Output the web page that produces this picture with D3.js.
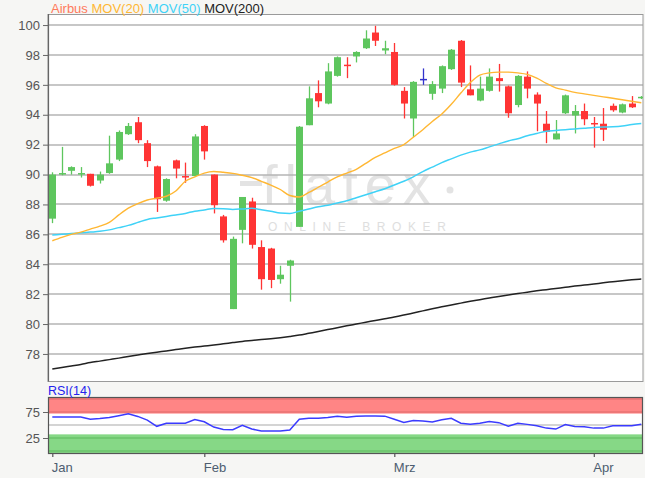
<!DOCTYPE html>
<html><head><meta charset="utf-8">
<script src="https://cdn.jsdelivr.net/npm/d3@7/dist/d3.min.js"></script>
<style>
html,body{margin:0;padding:0;background:#f6f6f4;}
svg{display:block;font-family:"Liberation Sans",Arial,sans-serif;}
</style></head>
<body>
<svg id="chart" width="645" height="478"></svg>
<script>
// ---- data ----
const monthLabels = ["Jan","Feb","Mrz","Apr"];
const monthStartIndex = [0,16,36,57];
const priceTicks = [78,80,82,84,86,88,90,92,94,96,98,100];
const rsiTicks = [75,25];
const legendItems = ["Airbus","MOV(20)","MOV(50)","MOV(200)"];

const openV  = [87.05,90.0,90.25,90.0,90.05,89.6,90.1,91.0,92.7,93.5,92.1,90.55,88.25,90.95,89.9,89.9,93.25,90.0,87.2,81.0,86.3,88.2,85.15,85.05,83.0,83.9,86.5,93.3,95.45,94.75,96.6,97.35,97.9,98.45,99.5,98.3,98.2,95.6,93.75,96.35,95.4,95.75,97.05,98.95,95.7,94.95,95.6,96.45,95.9,94.65,96.55,95.35,93.4,92.35,94.1,93.95,94.25,93.45,93.4,94.6,94.15,94.75,95.1];
const highV  = [90.15,91.85,90.55,90.5,90.05,90.2,92.6,92.95,93.45,93.85,92.3,90.6,89.75,91.0,90.8,92.7,93.3,90.0,87.3,85.85,88.5,88.45,85.6,85.1,83.9,84.3,93.25,95.9,96.3,97.45,97.9,97.85,98.25,99.65,99.95,98.95,98.8,95.85,96.25,97.1,96.25,97.3,98.4,99.0,97.3,96.55,97.1,97.4,95.95,96.65,96.9,95.5,94.25,93.65,95.35,94.65,94.75,93.85,94.45,94.75,94.75,95.25,95.25];
const lowV   = [86.75,89.95,90.0,89.8,89.2,89.4,90.05,90.9,92.65,92.1,90.5,87.5,88.18,89.75,89.45,89.85,91.0,87.4,85.45,81.0,85.4,85.05,82.3,82.4,82.7,81.5,86.5,93.3,94.5,94.7,96.55,96.45,97.5,98.4,98.6,98.05,95.95,93.75,92.5,96.0,95.0,95.45,97.0,95.85,95.3,94.9,95.55,95.55,93.8,94.5,95.1,92.9,92.1,92.35,94.05,92.75,93.3,91.8,92.25,94.2,94.1,94.45,95.05];
const closeV = [90.0,90.1,90.5,90.1,89.25,90.0,90.75,92.85,93.25,92.3,90.9,88.35,89.7,90.4,89.8,92.55,91.55,87.95,85.6,85.7,88.5,85.3,83.0,82.95,83.3,84.25,93.2,95.1,94.9,96.9,97.85,97.3,98.2,99.1,98.95,98.45,96.0,94.75,96.2,96.35,96.05,97.25,98.35,96.15,95.3,95.75,96.55,96.25,94.1,96.6,95.75,94.75,92.85,92.75,95.3,94.25,93.7,93.35,93.0,94.3,94.7,94.5,95.2];

const mov20  = [85.57,85.8,86.0,86.15,86.35,86.55,86.8,87.3,87.75,88.05,88.3,88.42,88.55,88.9,89.55,89.85,90.1,90.2,90.15,90.08,89.95,89.8,89.55,89.3,89.0,88.6,88.5,88.8,89.15,89.5,89.85,90.1,90.35,90.75,91.15,91.45,91.75,92.0,92.5,93.0,93.55,94.05,94.7,95.45,96.15,96.65,96.8,96.85,96.85,96.8,96.7,96.45,96.1,95.8,95.65,95.5,95.4,95.3,95.2,95.1,95.0,94.9,94.8];
const mov50  = [85.95,86.0,86.05,86.1,86.15,86.2,86.3,86.45,86.6,86.8,87.0,87.1,87.2,87.3,87.4,87.55,87.63,87.73,87.72,87.67,87.7,87.74,87.65,87.55,87.42,87.4,87.55,87.7,87.85,87.95,88.1,88.25,88.45,88.65,88.85,89.05,89.3,89.55,89.85,90.2,90.5,90.8,91.05,91.3,91.5,91.65,91.85,92.05,92.25,92.4,92.6,92.75,92.9,92.95,93.0,93.05,93.1,93.15,93.18,93.2,93.25,93.35,93.42];
const mov200 = [76.99,77.1,77.2,77.3,77.42,77.52,77.62,77.72,77.83,77.93,78.03,78.12,78.2,78.29,78.38,78.46,78.53,78.6,78.68,78.76,78.84,78.9,78.96,79.02,79.09,79.17,79.26,79.38,79.5,79.63,79.75,79.88,80.0,80.12,80.24,80.36,80.47,80.6,80.74,80.88,81.02,81.15,81.28,81.4,81.52,81.63,81.74,81.85,81.95,82.04,82.13,82.22,82.3,82.38,82.46,82.54,82.61,82.68,82.76,82.83,82.9,82.96,83.01];
const rsi14  = [65.5,65.5,65.5,65.5,61.3,62.5,64.3,68,71.8,66.5,59.5,47.5,53.5,53.5,53.5,60.5,56.3,46,41.5,41,49.5,42.3,38.5,38.3,38.3,40.5,61,63,63,64.5,67,65,67,67.4,67.4,67,61,55,58.5,57.5,56,60,63,53.5,51.6,53.3,56.5,54.5,47.5,53.5,51.2,48.7,44,42.2,51,47.3,46.5,44,44,48.4,48.4,48.4,51.6];

// ---- layout ----
const svg = d3.select("#chart");
const L = 48, R = 643, T = 14, B = 381;
const rT = 397, rB = 453;
const font = '"Liberation Sans",Arial,sans-serif';

svg.append("rect").attr("width",645).attr("height",478).attr("fill","#f6f6f4");

const n = closeV.length;
const x = d3.scaleLinear().domain([0, n-1]).range([52.3, 641.3]);
const y = d3.scaleLinear().domain([76.19, 100.74]).range([B, T]);
const ry = d3.scaleLinear().domain([0, 100]).range([451, 399]);

const defs = svg.append("defs");
defs.append("clipPath").attr("id","clipMain").append("rect").attr("x",L).attr("y",T).attr("width",R-L).attr("height",B-T);
defs.append("clipPath").attr("id","clipRsi").append("rect").attr("x",L).attr("y",rT).attr("width",R-L).attr("height",rB-rT);

// main panel background
svg.append("rect").attr("x",L).attr("y",T).attr("width",R-L).attr("height",B-T).attr("fill","#ffffff");

// watermark
const wm = svg.append("g").attr("clip-path","url(#clipMain)");
wm.append("rect").attr("x",240).attr("y",181).attr("width",22).attr("height",5).attr("fill","#e3e3e3");
wm.append("text").attr("x",262).attr("y",204).attr("font-family",font).attr("font-size",56)
  .attr("fill","#e3e3e3").attr("letter-spacing",7).text("flatex");
wm.append("circle").attr("cx",450).attr("cy",190).attr("r",3.5).attr("fill","#e3e3e3");
wm.append("text").attr("x",268).attr("y",231).attr("font-family",font).attr("font-size",12)
  .attr("fill","#dedede").attr("letter-spacing",6.6).text("ONLINE BROKER");

// gridlines
svg.append("g").selectAll("line").data(priceTicks).join("line")
  .attr("x1",L).attr("x2",R).attr("y1",d=>Math.round(y(d))).attr("y2",d=>Math.round(y(d)))
  .attr("stroke","#b4b4b4").attr("stroke-width",1.6);

// main border
svg.append("rect").attr("x",L).attr("y",T+0.5).attr("width",R-L).attr("height",B-T)
  .attr("fill","none").attr("stroke","#9a9a9a").attr("stroke-width",1);

// candles
const gC = svg.append("g").attr("clip-path","url(#clipMain)");
const idx = d3.range(n);
const col = i => closeV[i] > openV[i] ? "#5ec65e" : (closeV[i] < openV[i] ? "#ff3434" : "#3333cc");
gC.selectAll("line.w").data(idx).join("line").attr("class","w")
  .attr("x1",i=>Math.round(x(i))+0.5).attr("x2",i=>Math.round(x(i))+0.5)
  .attr("y1",i=>y(highV[i])).attr("y2",i=>y(lowV[i]))
  .attr("stroke",col).attr("stroke-width",1.3);
gC.selectAll("rect.b").data(idx).join("rect").attr("class","b")
  .attr("x",i=>Math.round(x(i))-3)
  .attr("width",7)
  .attr("y",i=>y(Math.max(openV[i],closeV[i])) - (openV[i]===closeV[i]?0.75:0))
  .attr("height",i=>Math.max(1.5, Math.abs(y(openV[i])-y(closeV[i]))))
  .attr("fill",col);

// moving averages
const line = arr => d3.line().x((d,i)=>x(i)).y(d=>y(d)).curve(d3.curveMonotoneX)(arr);
const gL = svg.append("g").attr("clip-path","url(#clipMain)").attr("fill","none");
gL.append("path").attr("d",line(mov200)).attr("stroke","#222").attr("stroke-width",1.5);
gL.append("path").attr("d",line(mov50)).attr("stroke","#3fd2f7").attr("stroke-width",1.5);
gL.append("path").attr("d",line(mov20)).attr("stroke","#ffb733").attr("stroke-width",1.4);

// y axis
const yAxis = svg.append("g").attr("transform",`translate(${L},0)`)
  .call(d3.axisLeft(y).tickValues(priceTicks).tickSize(5).tickPadding(3).tickFormat(d3.format("d")));
yAxis.select(".domain").remove();
yAxis.selectAll("line").attr("stroke","#666");
yAxis.selectAll("text").attr("fill","#555").attr("font-size",13).attr("font-family",font);
svg.append("line").attr("x1",L+0.5).attr("x2",L+0.5).attr("y1",T).attr("y2",B+0.5).attr("stroke","#666").attr("stroke-width",1.2);

// legend
const legColors = ["#ff7a5c","#ffb733","#3fd2f7","#222"];
const leg = svg.append("text").attr("x",51).attr("y",13).attr("font-size",13).attr("font-family",font);
legendItems.forEach((t,k)=>{ leg.append("tspan").attr("fill",legColors[k]).text((k?" ":"")+t); });

// ---- RSI panel ----
svg.append("rect").attr("x",L).attr("y",rT).attr("width",R-L).attr("height",rB-rT).attr("fill","#ffffff");
svg.append("rect").attr("x",L).attr("y",rT).attr("width",R-L).attr("height",ry(72)-rT).attr("fill","#ff8585");
svg.append("rect").attr("x",L).attr("y",ry(32)).attr("width",R-L).attr("height",rB-ry(32)).attr("fill","#86d886");
svg.append("line").attr("x1",L).attr("x2",R).attr("y1",ry(100)).attr("y2",ry(100)).attr("stroke","#dd6a6a").attr("stroke-width",1.2);
svg.append("line").attr("x1",L).attr("x2",R).attr("y1",ry(75)).attr("y2",ry(75)).attr("stroke","#dd6a6a").attr("stroke-width",1.2);
svg.append("line").attr("x1",L).attr("x2",R).attr("y1",ry(25)).attr("y2",ry(25)).attr("stroke","#5cb85c").attr("stroke-width",1.2);
svg.append("line").attr("x1",L).attr("x2",R).attr("y1",ry(0)).attr("y2",ry(0)).attr("stroke","#5cb85c").attr("stroke-width",1.2);
svg.append("line").attr("x1",L).attr("x2",R).attr("y1",ry(50)).attr("y2",ry(50)).attr("stroke","#aaaaaa").attr("stroke-width",1.2);

svg.append("path").attr("clip-path","url(#clipRsi)")
  .attr("d", d3.line().x((d,i)=>x(i)).y(d=>ry(d))(rsi14))
  .attr("fill","none").attr("stroke","#3b3bff").attr("stroke-width",1.5);

svg.append("rect").attr("x",L+0.5).attr("y",rT+0.5).attr("width",R-L-1).attr("height",rB-rT)
  .attr("fill","none").attr("stroke","#555").attr("stroke-width",1.2);

const rAxis = svg.append("g").attr("transform",`translate(${L},0)`)
  .call(d3.axisLeft(ry).tickValues(rsiTicks).tickSize(5).tickPadding(3));
rAxis.select(".domain").remove();
rAxis.selectAll("line").attr("stroke","#666");
rAxis.selectAll("text").attr("fill","#555").attr("font-size",13).attr("font-family",font);

svg.append("text").attr("x",48).attr("y",395).attr("font-size",12.5).attr("font-family",font)
  .attr("fill","#2323ee").text("RSI(14)");

// x axis
const xAxis = svg.append("g").attr("transform",`translate(0,${rB})`)
  .call(d3.axisBottom(x).tickValues(monthStartIndex).tickSize(4).tickPadding(6)
    .tickFormat((d,k)=>monthLabels[k]));
xAxis.select(".domain").remove();
xAxis.selectAll("line").attr("stroke","#555").attr("stroke-width",1.2);
xAxis.selectAll("text").attr("fill","#4d5d70").attr("font-size",13).attr("font-family",font)
  .attr("text-anchor","start").attr("dx",-1);
</script>
</body></html>
